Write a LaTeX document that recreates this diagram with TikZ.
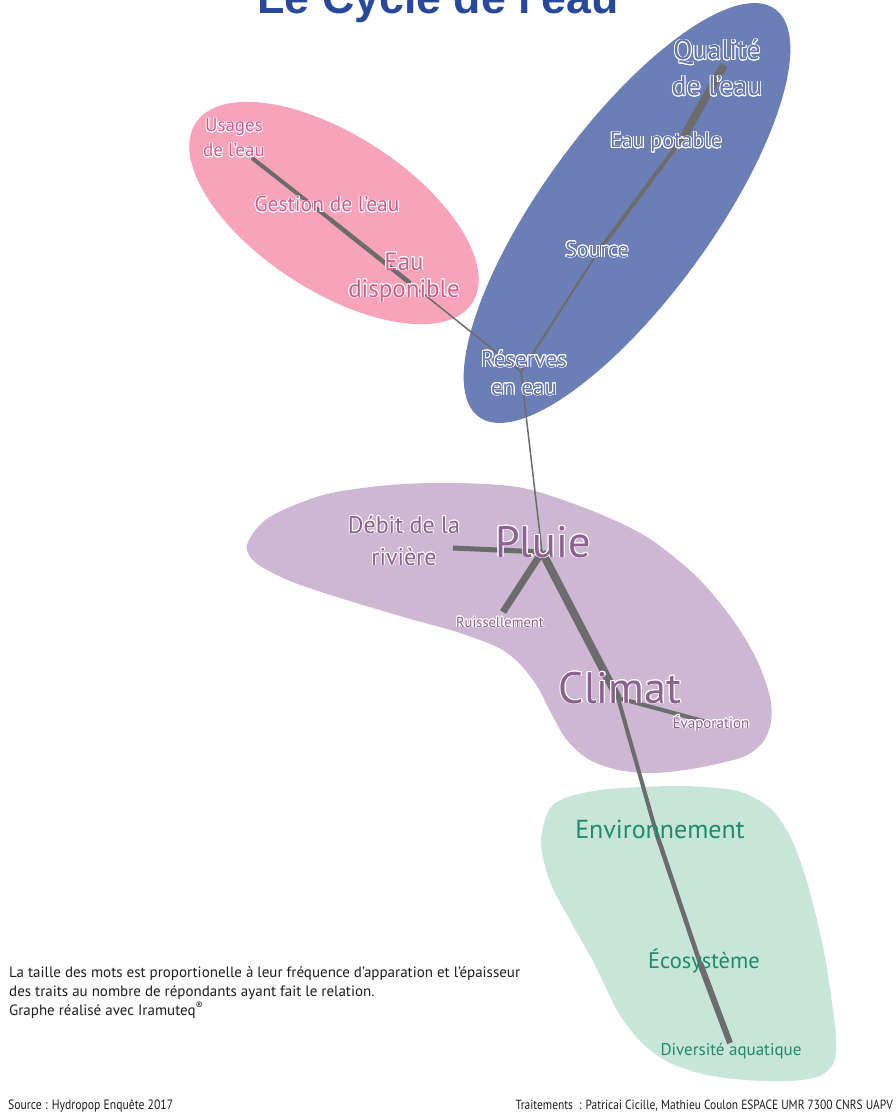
\documentclass[tikz,border=0pt]{standalone}
\usepackage{fontspec}
\setmainfont{PT Sans}
\newfontfamily\titlefont{Liberation Sans}
\newfontfamily\narrowfont{PT Sans}[FakeStretch=0.86]
\usepackage{contour}
\contourlength{0.9pt}
\newcommand{\halo}[1]{\contour{white}{#1}}
\definecolor{bluebg}{RGB}{108,126,182}
\definecolor{bluetxt}{RGB}{100,118,178}
\definecolor{pinkbg}{RGB}{247,163,185}
\definecolor{pinktxt}{RGB}{214,90,135}
\definecolor{purplebg}{RGB}{206,183,210}
\definecolor{purpletxt}{RGB}{140,96,145}
\definecolor{greenbg}{RGB}{199,229,217}
\definecolor{greentxt}{RGB}{32,140,104}
\definecolor{edgegray}{RGB}{108,108,108}
\definecolor{titleblue}{RGB}{40,72,155}
\definecolor{notegray}{RGB}{30,30,30}
\begin{document}
\begin{tikzpicture}[x=1pt,y=-1pt,
  lbl/.style={inner sep=0pt,align=center,anchor=base},
  bluelbl/.style={lbl,text=bluetxt},
  pinklbl/.style={lbl,text=pinktxt},
  purplelbl/.style={lbl,text=purpletxt},
  greenlbl/.style={lbl,text=greentxt},
  edge/.style={draw=edgegray}]
  \clip (0,0) rectangle (895,1115);
  \fill[white] (0,0) rectangle (895,1115);
  \fill[pinkbg,rotate around={-33:(334,213)}] (334,213) ellipse (165 and 78);
  \fill[bluebg,rotate around={54:(627,213)}] (627,213) ellipse (252 and 85);
  \fill[purplebg] plot[smooth cycle] coordinates {(247,545) (268,518) (323,495)
    (390,485) (457,483) (523,488) (590,510) (647,537) (697,577) (733,620)
    (757,660) (770,697) (771,722) (763,742) (743,757) (697,768) (655,773)
    (618,770) (588,759) (566,739) (551,713) (537,686) (518,662) (497,647)
    (457,632) (407,618) (340,598) (290,581) (256,563)};
  \fill[greenbg] plot[smooth cycle] coordinates {(541,840) (554,804) (600,790)
    (680,786) (737,791) (770,808) (790,836) (804,872) (815,912) (825,957)
    (832,1003) (836,1037) (834,1062) (820,1076) (790,1081) (745,1080)
    (703,1074) (668,1062) (641,1042) (618,1012) (595,965) (571,922) (550,882)};

  \coordinate (Q) at (724,65);
  \coordinate (EP) at (684,136);
  \coordinate (S) at (598,252);
  \coordinate (R) at (521,372);
  \coordinate (U) at (252,158);
  \coordinate (G) at (331,220);
  \coordinate (ED) at (410,283);
  \coordinate (P) at (542,552);
  \coordinate (D) at (453,548);
  \coordinate (Ru) at (503,612);
  \coordinate (C) at (618,698);
  \coordinate (Ev) at (707,722);
  \coordinate (E) at (656,832);
  \coordinate (Ec) at (700,963);
  \coordinate (Di) at (730,1043);

  \draw[edge,line width=8] (Q) -- (EP);
  \draw[edge,line width=4] (EP) -- (S);
  \draw[edge,line width=2] (S) -- (R);
  \draw[edge,line width=4] (U) -- (G);
  \draw[edge,line width=4.5] (G) -- (ED);
  \draw[edge,line width=1.5] (ED) -- (R);
  \draw[edge,line width=1.5] (R) -- (P);
  \draw[edge,line width=5] (P) -- (D);
  \draw[edge,line width=7] (P) -- (Ru);
  \draw[edge,line width=8] (P) -- (C);
  \draw[edge,line width=4] (C) -- (Ev);
  \draw[edge,line width=4] (C) -- (E);
  \draw[edge,line width=4.5] (E) -- (Ec);
  \draw[edge,line width=6] (Ec) -- (Di);

  \node[text=titleblue,font=\titlefont\bfseries\fontsize{44.7}{50}\selectfont,
    anchor=base,inner sep=0pt] (title) at (438,14) {Le Cycle de l'eau};

  \node[bluelbl,font=\fontsize{28}{36}\selectfont] (qualite) at (717,96)
    {\halo{Qualité}\\\halo{de l’eau}};
  \node[bluelbl,font=\fontsize{22}{26}\selectfont] (eaupot) at (666,148)
    {\halo{Eau potable}};
  \node[bluelbl,font=\fontsize{22}{26}\selectfont] (source) at (597,257)
    {\halo{Source}};
  \node[bluelbl,font=\fontsize{23}{28}\selectfont] (reserves) at (524,395)
    {\halo{Réserves}\\\halo{en eau}};

  \node[pinklbl,font=\fontsize{19}{25}\selectfont] (usages) at (234,157)
    {\halo{Usages}\\\halo{de l’eau}};
  \node[pinklbl,font=\fontsize{21.5}{25}\selectfont] (gestion) at (327,212)
    {\halo{Gestion de l’eau}};
  \node[pinklbl,font=\fontsize{25}{27}\selectfont] (eaudispo) at (404,297)
    {\halo{Eau}\\\halo{disponible}};

  \node[purplelbl,font=\fontsize{24}{32}\selectfont] (debit) at (404,565)
    {\halo{Débit de la}\\\halo{rivière}};
  \node[purplelbl,font=\fontsize{44}{50}\selectfont] (pluie) at (543,557)
    {\halo{Pluie}};
  \node[purplelbl,font=\fontsize{14.5}{17}\selectfont] (ruiss) at (500,627)
    {\halo{Ruissellement}};
  \node[purplelbl,font=\fontsize{44}{50}\selectfont] (climat) at (620,703)
    {\halo{Climat}};
  \node[purplelbl,font=\fontsize{15}{18}\selectfont] (evap) at (711,728)
    {\halo{Évaporation}};

  \node[greenlbl,font=\fontsize{26}{30}\selectfont] (envir) at (660,838)
    {Environnement};
  \node[greenlbl,font=\fontsize{22.5}{27}\selectfont] (ecosys) at (704,968)
    {Écosystème};
  \node[greenlbl,font=\fontsize{17}{20}\selectfont] (divers) at (731,1055)
    {Diversité aquatique};

  \node[anchor=base west,align=left,inner sep=0pt,text=notegray,
    font=\fontsize{15}{19}\selectfont] (note) at (9,1015)
    {La taille des mots est proportionelle à leur fréquence d’apparation et l’épaisseur\\
     des traits au nombre de répondants ayant fait le relation.\\
     Graphe réalisé avec Iramuteq\textsuperscript{®}};
  \node[anchor=base west,inner sep=0pt,text=notegray,
    font=\narrowfont\fontsize{13.6}{15}\selectfont] (srcnote) at (8,1109)
    {Source : Hydropop Enquête 2017};
  \node[anchor=base east,inner sep=0pt,text=notegray,
    font=\narrowfont\fontsize{13.3}{15}\selectfont] (traitements) at (893,1109)
    {Traitements~ : Patricai Cicille, Mathieu Coulon ESPACE UMR 7300 CNRS UAPV};
\end{tikzpicture}
\end{document}
